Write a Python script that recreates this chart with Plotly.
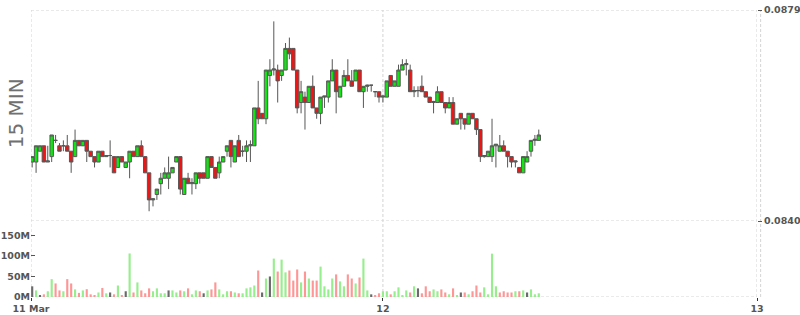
import plotly.graph_objects as go
import pandas as pd

# 15-minute candles, 11 Mar 01:30 onwards
start_time = "2024-03-11 01:30"
n_bars = 131

opens = [0.08509, 0.08509, 0.08529, 0.08539, 0.08509, 0.08519, 0.08549, 0.08539, 0.08539, 0.08539,
         0.08529, 0.08519, 0.08549, 0.08539, 0.08549, 0.08529, 0.08519, 0.08509, 0.08529, 0.08519,
         0.08521, 0.08519, 0.08499, 0.08519, 0.08499, 0.08509, 0.08529, 0.08519, 0.08539, 0.08519,
         0.08489, 0.08439, 0.08449, 0.08469, 0.08479, 0.08479, 0.08489, 0.08509, 0.08519, 0.08449,
         0.08479, 0.08469, 0.08469, 0.08489, 0.08489, 0.08479, 0.08519, 0.08499, 0.08489, 0.08509,
         0.08529, 0.08549, 0.08509, 0.08549, 0.08529, 0.08529, 0.08539, 0.08539, 0.08609, 0.08599,
         0.08589, 0.08669, 0.08679, 0.08679, 0.08669, 0.08679, 0.08719, 0.08719, 0.08679, 0.08619,
         0.08629, 0.08619, 0.08649, 0.08609, 0.08599, 0.08629, 0.08629, 0.08659, 0.08679, 0.08629,
         0.08649, 0.08669, 0.08659, 0.08659, 0.08679, 0.08639, 0.08649, 0.08651, 0.08639, 0.08639,
         0.08629, 0.08629, 0.08669, 0.08649, 0.08649, 0.08679, 0.08689, 0.08679, 0.08639, 0.08641,
         0.08649, 0.08639, 0.08629, 0.08619, 0.08619, 0.08639, 0.08619, 0.08609, 0.08619, 0.08579,
         0.08599, 0.08589, 0.08579, 0.08599, 0.08589, 0.08569, 0.08519, 0.08519, 0.08519, 0.08539,
         0.08529, 0.08539, 0.08529, 0.08519, 0.08509, 0.08499, 0.08489, 0.08509, 0.08529, 0.08549,
         0.08549]
highs = [0.08519, 0.08539, 0.08539, 0.08539, 0.08539, 0.08559, 0.08559, 0.08544, 0.08549, 0.08559,
         0.08529, 0.08569, 0.08549, 0.08549, 0.08549, 0.08529, 0.08519, 0.08529, 0.08529, 0.08521,
         0.08549, 0.08519, 0.08519, 0.08519, 0.08509, 0.08529, 0.08529, 0.08539, 0.08549, 0.08519,
         0.08489, 0.08441, 0.08459, 0.08489, 0.08499, 0.08519, 0.08499, 0.08519, 0.08519, 0.08479,
         0.08489, 0.08479, 0.08489, 0.08489, 0.08489, 0.08519, 0.08519, 0.08499, 0.08519, 0.08519,
         0.08539, 0.08549, 0.08539, 0.08559, 0.08539, 0.08549, 0.08549, 0.08609, 0.08659, 0.08599,
         0.08679, 0.08699, 0.08769, 0.08689, 0.08679, 0.08729, 0.08739, 0.08719, 0.08679, 0.08659,
         0.08639, 0.08649, 0.08669, 0.08609, 0.08629, 0.08629, 0.08659, 0.08699, 0.08679, 0.08649,
         0.08679, 0.08699, 0.08679, 0.08679, 0.08679, 0.08649, 0.08652, 0.08651, 0.08639, 0.08639,
         0.08632, 0.08659, 0.08669, 0.08659, 0.08689, 0.08699, 0.08699, 0.08689, 0.08649, 0.08649,
         0.08669, 0.08639, 0.08629, 0.08622, 0.08649, 0.08639, 0.08619, 0.08629, 0.08629, 0.08589,
         0.08599, 0.08589, 0.08599, 0.08599, 0.08589, 0.08569, 0.08521, 0.08529, 0.08589, 0.08542,
         0.08559, 0.08549, 0.08529, 0.08519, 0.08511, 0.08499, 0.08519, 0.08529, 0.08549, 0.08559,
         0.08569]
lows = [0.08499, 0.08489, 0.08529, 0.08509, 0.08509, 0.08509, 0.08544, 0.08529, 0.08529, 0.08529,
        0.08489, 0.08519, 0.08539, 0.08539, 0.08509, 0.08519, 0.08499, 0.08509, 0.08519, 0.08519,
        0.08499, 0.08489, 0.08499, 0.08509, 0.08499, 0.08479, 0.08519, 0.08519, 0.08519, 0.08489,
        0.08418, 0.08427, 0.08439, 0.08449, 0.08479, 0.08459, 0.08489, 0.08509, 0.08449, 0.08449,
        0.08469, 0.08449, 0.08459, 0.08469, 0.08479, 0.08479, 0.08499, 0.08479, 0.08479, 0.08509,
        0.08519, 0.08499, 0.08509, 0.08519, 0.08519, 0.08509, 0.08509, 0.08539, 0.08579, 0.08589,
        0.08579, 0.08649, 0.08669, 0.08619, 0.08659, 0.08679, 0.08699, 0.08679, 0.08599, 0.08599,
        0.08569, 0.08619, 0.08609, 0.08589, 0.08579, 0.08609, 0.08619, 0.08659, 0.08599, 0.08629,
        0.08649, 0.08659, 0.08649, 0.08659, 0.08639, 0.08609, 0.08639, 0.08639, 0.08629, 0.08619,
        0.08619, 0.08629, 0.08649, 0.08649, 0.08649, 0.08679, 0.08669, 0.08639, 0.08629, 0.08629,
        0.08639, 0.08629, 0.08619, 0.08599, 0.08619, 0.08619, 0.08599, 0.08609, 0.08579, 0.08579,
        0.08569, 0.08569, 0.08579, 0.08589, 0.08559, 0.08509, 0.08517, 0.08519, 0.08509, 0.08499,
        0.08529, 0.08529, 0.08499, 0.08499, 0.08499, 0.08489, 0.08489, 0.08509, 0.08519, 0.08539,
        0.08549]
closes = [0.08519, 0.08539, 0.08539, 0.08509, 0.08511, 0.08559, 0.08549, 0.08529, 0.08539, 0.08529,
          0.08509, 0.08549, 0.08539, 0.08549, 0.08529, 0.08519, 0.08509, 0.08529, 0.08519, 0.08521,
          0.08521, 0.08489, 0.08519, 0.08509, 0.08509, 0.08529, 0.08519, 0.08539, 0.08519, 0.08489,
          0.08439, 0.08441, 0.08459, 0.08479, 0.08489, 0.08489, 0.08499, 0.08519, 0.08459, 0.08479,
          0.08469, 0.08471, 0.08489, 0.08479, 0.08479, 0.08519, 0.08499, 0.08479, 0.08509, 0.08519,
          0.08539, 0.08519, 0.08539, 0.08519, 0.08529, 0.08539, 0.08541, 0.08609, 0.08589, 0.08589,
          0.08679, 0.08679, 0.08681, 0.08659, 0.08679, 0.08719, 0.08709, 0.08679, 0.08609, 0.08639,
          0.08619, 0.08649, 0.08609, 0.08599, 0.08629, 0.08631, 0.08659, 0.08679, 0.08639, 0.08649,
          0.08669, 0.08659, 0.08649, 0.08679, 0.08639, 0.08649, 0.08651, 0.08651, 0.08639, 0.08629,
          0.08631, 0.08659, 0.08649, 0.08659, 0.08679, 0.08689, 0.08691, 0.08639, 0.08641, 0.08641,
          0.08639, 0.08629, 0.08619, 0.08621, 0.08639, 0.08619, 0.08609, 0.08619, 0.08579, 0.08589,
          0.08589, 0.08579, 0.08599, 0.08589, 0.08569, 0.08519, 0.08521, 0.08529, 0.08539, 0.08542,
          0.08539, 0.08529, 0.08519, 0.08509, 0.08511, 0.08489, 0.08519, 0.08519, 0.08549, 0.08551,
          0.08559]
volumes_m = [26, 16, 4, 6.5, 14, 43.5, 33, 16, 14, 43.5,
             33, 18.5, 10, 16, 19, 6.5, 4, 11, 22, 9,
             11, 6.5, 28, 4, 14, 106, 11, 35.5, 16, 9,
             21, 14, 21, 9, 9, 16, 16, 11, 16, 14,
             21, 6.5, 16, 14, 9, 16, 18.5, 35.5, 18.5, 6.5,
             14, 14, 11, 9, 9, 21, 23.5, 28, 64.5, 11,
             45, 50, 93.5, 62, 91, 60, 64.5, 40, 67, 35.5,
             62, 45, 40, 40, 74, 26, 18.5, 45, 55, 38,
             26, 55, 45, 33, 47.5, 93.5, 16, 6.5, 4, 9,
             14, 14, 6.5, 14, 23.5, 4, 16, 11, 26, 21,
             9, 26, 14, 18.5, 14, 18.5, 11, 6.5, 21, 4,
             11, 11, 6.5, 14, 28, 11, 23.5, 6.5, 105.5, 26,
             11, 14, 11, 11, 14, 14, 16, 11, 18.5, 6.5,
             9]

price_ticks = [0.0840, 0.0879]
volume_ticks = [0, 50e6, 100e6, 150e6]
volume_tick_text = ["0M", "50M", "100M", "150M"]
x_start, x_end = "2024-03-11 01:25:24", "2024-03-13 00:00"
date_ticks = [x_start, "2024-03-12 00:00", "2024-03-13 00:00"]
date_tick_text = ["11 Mar", "12", "13"]

times = pd.date_range(start_time, periods=n_bars, freq="15min")
volumes = [v * 1e6 for v in volumes_m]

UP, DOWN, FLAT = "#96ee8c", "#ff9696", "#6a6a6a"
vol_colors = []
for i, c in enumerate(closes):
    if i == 0 or c == closes[i - 1]:
        vol_colors.append(FLAT)
    elif c > closes[i - 1]:
        vol_colors.append(UP)
    else:
        vol_colors.append(DOWN)

fig = go.Figure()
fig.add_trace(go.Candlestick(
    x=times, open=opens, high=highs, low=lows, close=closes,
    xaxis="x", yaxis="y",
    increasing=dict(fillcolor="#12e612", line=dict(color="#575757", width=1)),
    decreasing=dict(fillcolor="#f01414", line=dict(color="#575757", width=1)),
    whiskerwidth=0, showlegend=False, hoverinfo="skip",
))
fig.add_trace(go.Bar(
    x=times, y=volumes, xaxis="x", yaxis="y2",
    marker=dict(color=vol_colors, line=dict(width=0)),
    width=15 * 60 * 1000 * 0.55, showlegend=False, hoverinfo="skip",
))

bold_font = dict(family="DejaVu Sans", size=9.5, color="#555555", weight="bold")
split = 0.2648
grid = dict(color="#d4d4d4", width=1, dash="3px,2px")

shapes = []
for yv in price_ticks:
    shapes.append(dict(type="line", xref="paper", yref="y", x0=0, x1=1, y0=yv, y1=yv,
                       line=grid, layer="below"))
shapes.append(dict(type="line", xref="paper", yref="y2", x0=0, x1=1, y0=0, y1=0,
                   line=grid, layer="below"))
for xv in date_ticks:
    shapes.append(dict(type="line", xref="x", yref="paper", x0=xv, x1=xv, y0=0, y1=1,
                       line=grid, layer="below"))
shapes.append(dict(type="line", xref="paper", yref="paper", x0=1.005, x1=1.005, y0=0, y1=1,
                   line=grid, layer="below"))

fig.update_layout(
    width=800, height=315,
    margin=dict(l=31, r=43, t=10, b=18, pad=0),
    paper_bgcolor="white", plot_bgcolor="white",
    boxgap=0.12, boxgroupgap=0,
    xaxis=dict(
        type="date", anchor="y2", automargin=False,
        range=[x_start, x_end],
        tickvals=date_ticks, ticktext=date_tick_text,
        showgrid=False,
        ticks="outside", ticklen=3, tickcolor="#333333",
        tickfont=bold_font,
        rangeslider=dict(visible=False), showline=False, zeroline=False,
    ),
    yaxis=dict(
        domain=[split, 1], side="right", range=[0.0840, 0.0879], automargin=False,
        tickvals=price_ticks, ticktext=["%.4f" % v for v in price_ticks],
        showgrid=False,
        ticks="outside", ticklen=4, tickcolor="#555555",
        tickfont=bold_font,
        showline=False, zeroline=False,
    ),
    yaxis2=dict(
        domain=[0, split], side="left", range=[0, 185e6], automargin=False,
        tickvals=volume_ticks, ticktext=volume_tick_text,
        showgrid=False, ticks="inside", ticklen=4, tickcolor="#555555",
        tickfont=bold_font,
        showline=False, zeroline=False,
    ),
    shapes=shapes,
    annotations=[dict(text="15 MIN", xref="paper", yref="paper", x=-0.0207, y=0.64,
                      xanchor="center", yanchor="middle", textangle=-90, showarrow=False,
                      font=dict(family="DejaVu Sans", size=20, color="#707070"))],
)

fig.write_html("out.html")
